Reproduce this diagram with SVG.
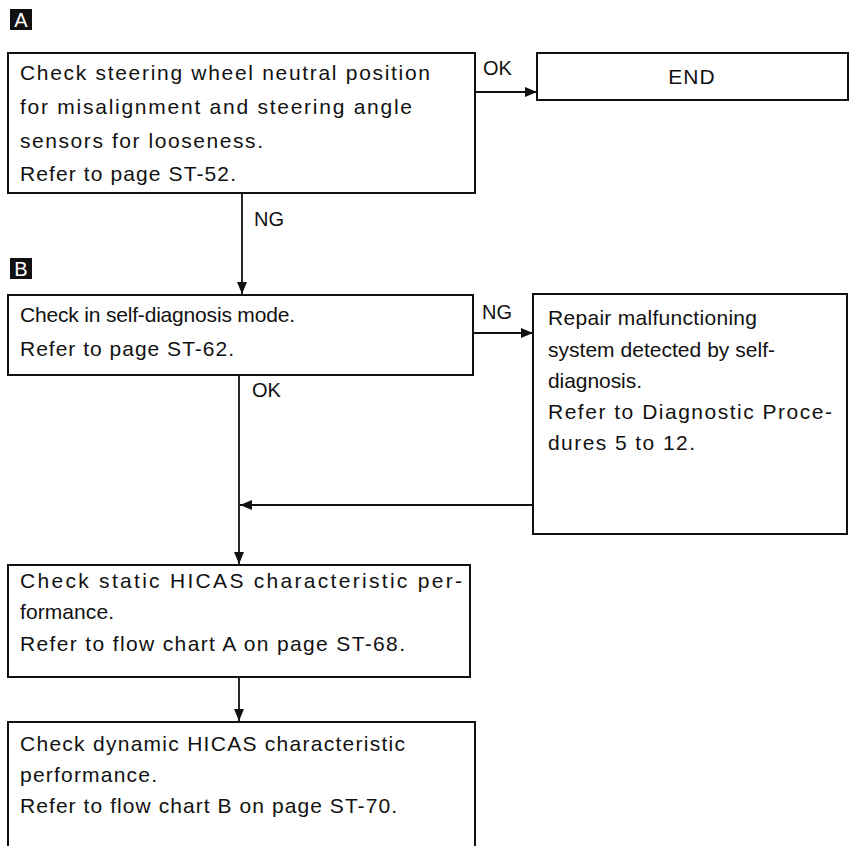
<svg xmlns="http://www.w3.org/2000/svg" width="855" height="846" viewBox="0 0 855 846">
<style>
.box{fill:#fff;stroke:#111;stroke-width:2}
.t{font-family:"Liberation Sans",Arial,sans-serif;font-size:21px;fill:#111}
.lbl{font-family:"Liberation Sans",Arial,sans-serif;font-size:20px;fill:#111}
.tag{fill:#111}
.tagt{font-family:"Liberation Sans",Arial,sans-serif;font-size:20px;fill:#fff;text-anchor:middle}
.c{stroke:#111;stroke-width:1.8;fill:none}
</style>
<defs>
<marker id="ah" viewBox="0 0 12 10" refX="12" refY="5" markerWidth="12" markerHeight="10" markerUnits="userSpaceOnUse" orient="auto">
<path d="M0,0 L12,5 L0,10 z" fill="#111"/>
</marker>
</defs>
<rect width="855" height="846" fill="#fff"/>
<g id="tagA"><rect class="tag" x="10" y="9" width="22" height="21"/><text class="tagt" x="21" y="27">A</text></g>
<g id="tagB"><rect class="tag" x="10" y="258" width="22" height="21"/><text class="tagt" x="21" y="276">B</text></g>
<g id="connectors">
<line class="c" x1="475" y1="92" x2="537" y2="92" marker-end="url(#ah)"/>
<line class="c" x1="242" y1="193" x2="242" y2="294" marker-end="url(#ah)"/>
<line class="c" x1="473" y1="333" x2="533" y2="333" marker-end="url(#ah)"/>
<line class="c" x1="532" y1="505" x2="240" y2="505" marker-end="url(#ah)"/>
<line class="c" x1="239" y1="375" x2="239" y2="564" marker-end="url(#ah)"/>
<line class="c" x1="239" y1="677" x2="239" y2="721" marker-end="url(#ah)"/>
<text class="lbl" x="483" y="75">OK</text>
<text class="lbl" x="254" y="226">NG</text>
<text class="lbl" x="482" y="319">NG</text>
<text class="lbl" x="252" y="397">OK</text>
</g>
<g id="n1">
<rect class="box" x="8" y="53" width="467" height="140"/>
<text class="t" x="20" y="80" textLength="410">Check steering wheel neutral position</text>
<text class="t" x="20" y="114" textLength="392">for misalignment and steering angle</text>
<text class="t" x="20" y="148" textLength="243">sensors for looseness.</text>
<text class="t" x="20" y="181" textLength="216">Refer to page ST-52.</text>
</g>
<g id="end">
<rect class="box" x="537" y="53" width="311" height="47"/>
<text class="t" x="692" y="84" text-anchor="middle" letter-spacing="1">END</text>
</g>
<g id="n2">
<rect class="box" x="8" y="295" width="465" height="80"/>
<text class="t" x="20" y="322" textLength="275">Check in self-diagnosis mode.</text>
<text class="t" x="20" y="356" textLength="214">Refer to page ST-62.</text>
</g>
<g id="repair">
<rect class="box" x="533" y="294" width="314" height="240"/>
<text class="t" x="548" y="325" textLength="209">Repair malfunctioning</text>
<text class="t" x="548" y="357" textLength="227">system detected by self-</text>
<text class="t" x="548" y="388" textLength="94">diagnosis.</text>
<text class="t" x="548" y="419" textLength="284">Refer to Diagnostic Proce-</text>
<text class="t" x="548" y="450" textLength="147">dures 5 to 12.</text>
</g>
<g id="n3">
<rect class="box" x="8" y="565" width="462" height="112"/>
<text class="t" x="20" y="588" textLength="442">Check static HICAS characteristic per-</text>
<text class="t" x="20" y="619" textLength="94">formance.</text>
<text class="t" x="20" y="651" textLength="385">Refer to flow chart A on page ST-68.</text>
</g>
<g id="n4">
<rect class="box" x="8" y="722" width="467" height="140"/>
<text class="t" x="20" y="751" textLength="385">Check dynamic HICAS characteristic</text>
<text class="t" x="20" y="782" textLength="137">performance.</text>
<text class="t" x="20" y="813" textLength="377">Refer to flow chart B on page ST-70.</text>
</g>
</svg>
